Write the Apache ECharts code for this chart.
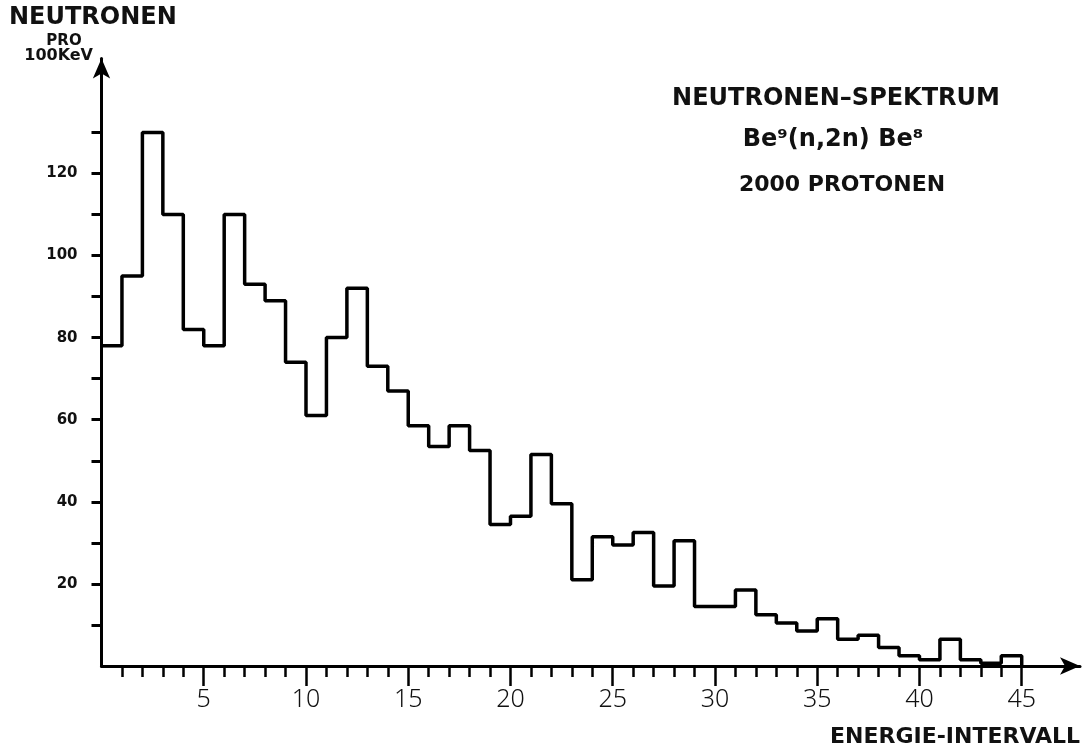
<!DOCTYPE html>
<html>
<head>
<meta charset="utf-8">
<script src="https://cdn.jsdelivr.net/npm/echarts@6/dist/echarts.min.js"></script>
<style>
html,body{margin:0;padding:0;background:#fff;}
#chart{width:1083px;height:755px;}
</style>
</head>
<body>
<div id="chart"></div>
<script>
// Counts per energy interval (interval i spans i-1 .. i)
const counts = [78, 95, 130, 110, 82, 78, 110, 93, 89, 74,
                61, 80, 92, 73, 67, 58.5, 53.5, 58.5, 52.5, 34.5,
                36.5, 51.5, 39.5, 21, 31.5, 29.5, 32.5, 19.5, 30.5, 14.5,
                14.5, 18.5, 12.5, 10.5, 8.5, 11.5, 6.5, 7.5, 4.5, 2.5,
                1.5, 6.5, 1.5, 0.7, 2.5];
const xMajorTicks = [5, 10, 15, 20, 25, 30, 35, 40, 45];
const xMinorTicks = [1,2,3,4,6,7,8,9,11,12,13,14,16,17,18,19,21,22,23,24,26,27,28,29,31,32,33,34,36,37,38,39,41,42,43,44];
const yTicks = [10, 20, 30, 40, 50, 60, 70, 80, 90, 100, 110, 120, 130];
const yLabels = [20, 40, 60, 80, 100, 120];
const titleLines = ['NEUTRONEN\u2013SPEKTRUM', 'Be\u2079(n,2n) Be\u2078', '2000 PROTONEN'];
const yName = ['NEUTRONEN', 'PRO', '100KeV'];
const xName = 'ENERGIE-INTERVALL';

const points = counts.map((v, i) => [i, v]);
points.push([counts.length, counts[counts.length - 1]]);
points.push([counts.length, 0]);

const chart = echarts.init(document.getElementById('chart'));
const boldFont = '"DejaVu Sans", sans-serif';
chart.setOption({
  animation: false,
  backgroundColor: '#fff',
  grid: {left: 101.5, right: 3, top: 58.5, bottom: 89, containLabel: false},
  xAxis: [{
    type: 'value', min: 0, max: 47.85, position: 'bottom',
    splitLine: {show: false},
    axisLine: {show: true, onZero: false, lineStyle: {color: '#000', width: 3},
      symbol: ['none', 'arrow'], symbolSize: [13, 20]},
    axisTick: {show: true, customValues: xMajorTicks, length: 20, lineStyle: {color: '#000', width: 2.5}},
    axisLabel: {show: true, customValues: xMajorTicks, margin: 21, color: '#111',
      fontFamily: '"Noto Sans", sans-serif', fontWeight: 300, fontSize: 25}
  }, {
    type: 'value', min: 0, max: 47.85, position: 'bottom', offset: 0,
    splitLine: {show: false},
    axisLine: {show: false},
    axisTick: {show: true, customValues: xMinorTicks, length: 11, lineStyle: {color: '#000', width: 2.5}},
    axisLabel: {show: false}
  }],
  yAxis: {
    type: 'value', min: 0, max: 148,
    splitLine: {show: false},
    axisLine: {show: true, onZero: false, lineStyle: {color: '#000', width: 3},
      symbol: ['none', 'arrow'], symbolSize: [13, 20]},
    axisTick: {show: true, customValues: yTicks, length: 10, lineStyle: {color: '#000', width: 3}},
    axisLabel: {show: true, customValues: yLabels, margin: 24, color: '#111',
      fontFamily: boldFont, fontWeight: 'bold', fontSize: 15}
  },
  series: [{
    type: 'line', step: 'end', data: points, symbol: 'none',
    xAxisIndex: 0,
    lineStyle: {color: '#000', width: 3.5}
  }],
  graphic: [
    {type: 'text', left: 9, top: 6, style: {text: yName[0], font: 'bold 24px ' + boldFont, fill: '#111'}},
    {type: 'text', x: 64, y: 34, style: {text: yName[1], align: 'center', font: 'bold 15px ' + boldFont, fill: '#111'}},
    {type: 'text', x: 93, y: 48, style: {text: yName[2], align: 'right', font: 'bold 16px ' + boldFont, fill: '#111'}},
    {type: 'text', x: 836, y: 87, style: {text: titleLines[0], align: 'center', font: 'bold 24px ' + boldFont, fill: '#111'}},
    {type: 'text', x: 833, y: 128, style: {text: titleLines[1], align: 'center', font: 'bold 24px ' + boldFont, fill: '#111'}},
    {type: 'text', x: 842, y: 174, style: {text: titleLines[2], align: 'center', font: 'bold 22px ' + boldFont, fill: '#111'}},
    {type: 'text', x: 1080, y: 726, style: {text: xName, align: 'right', font: 'bold 22px ' + boldFont, fill: '#111'}}
  ]
});
</script>
</body>
</html>
